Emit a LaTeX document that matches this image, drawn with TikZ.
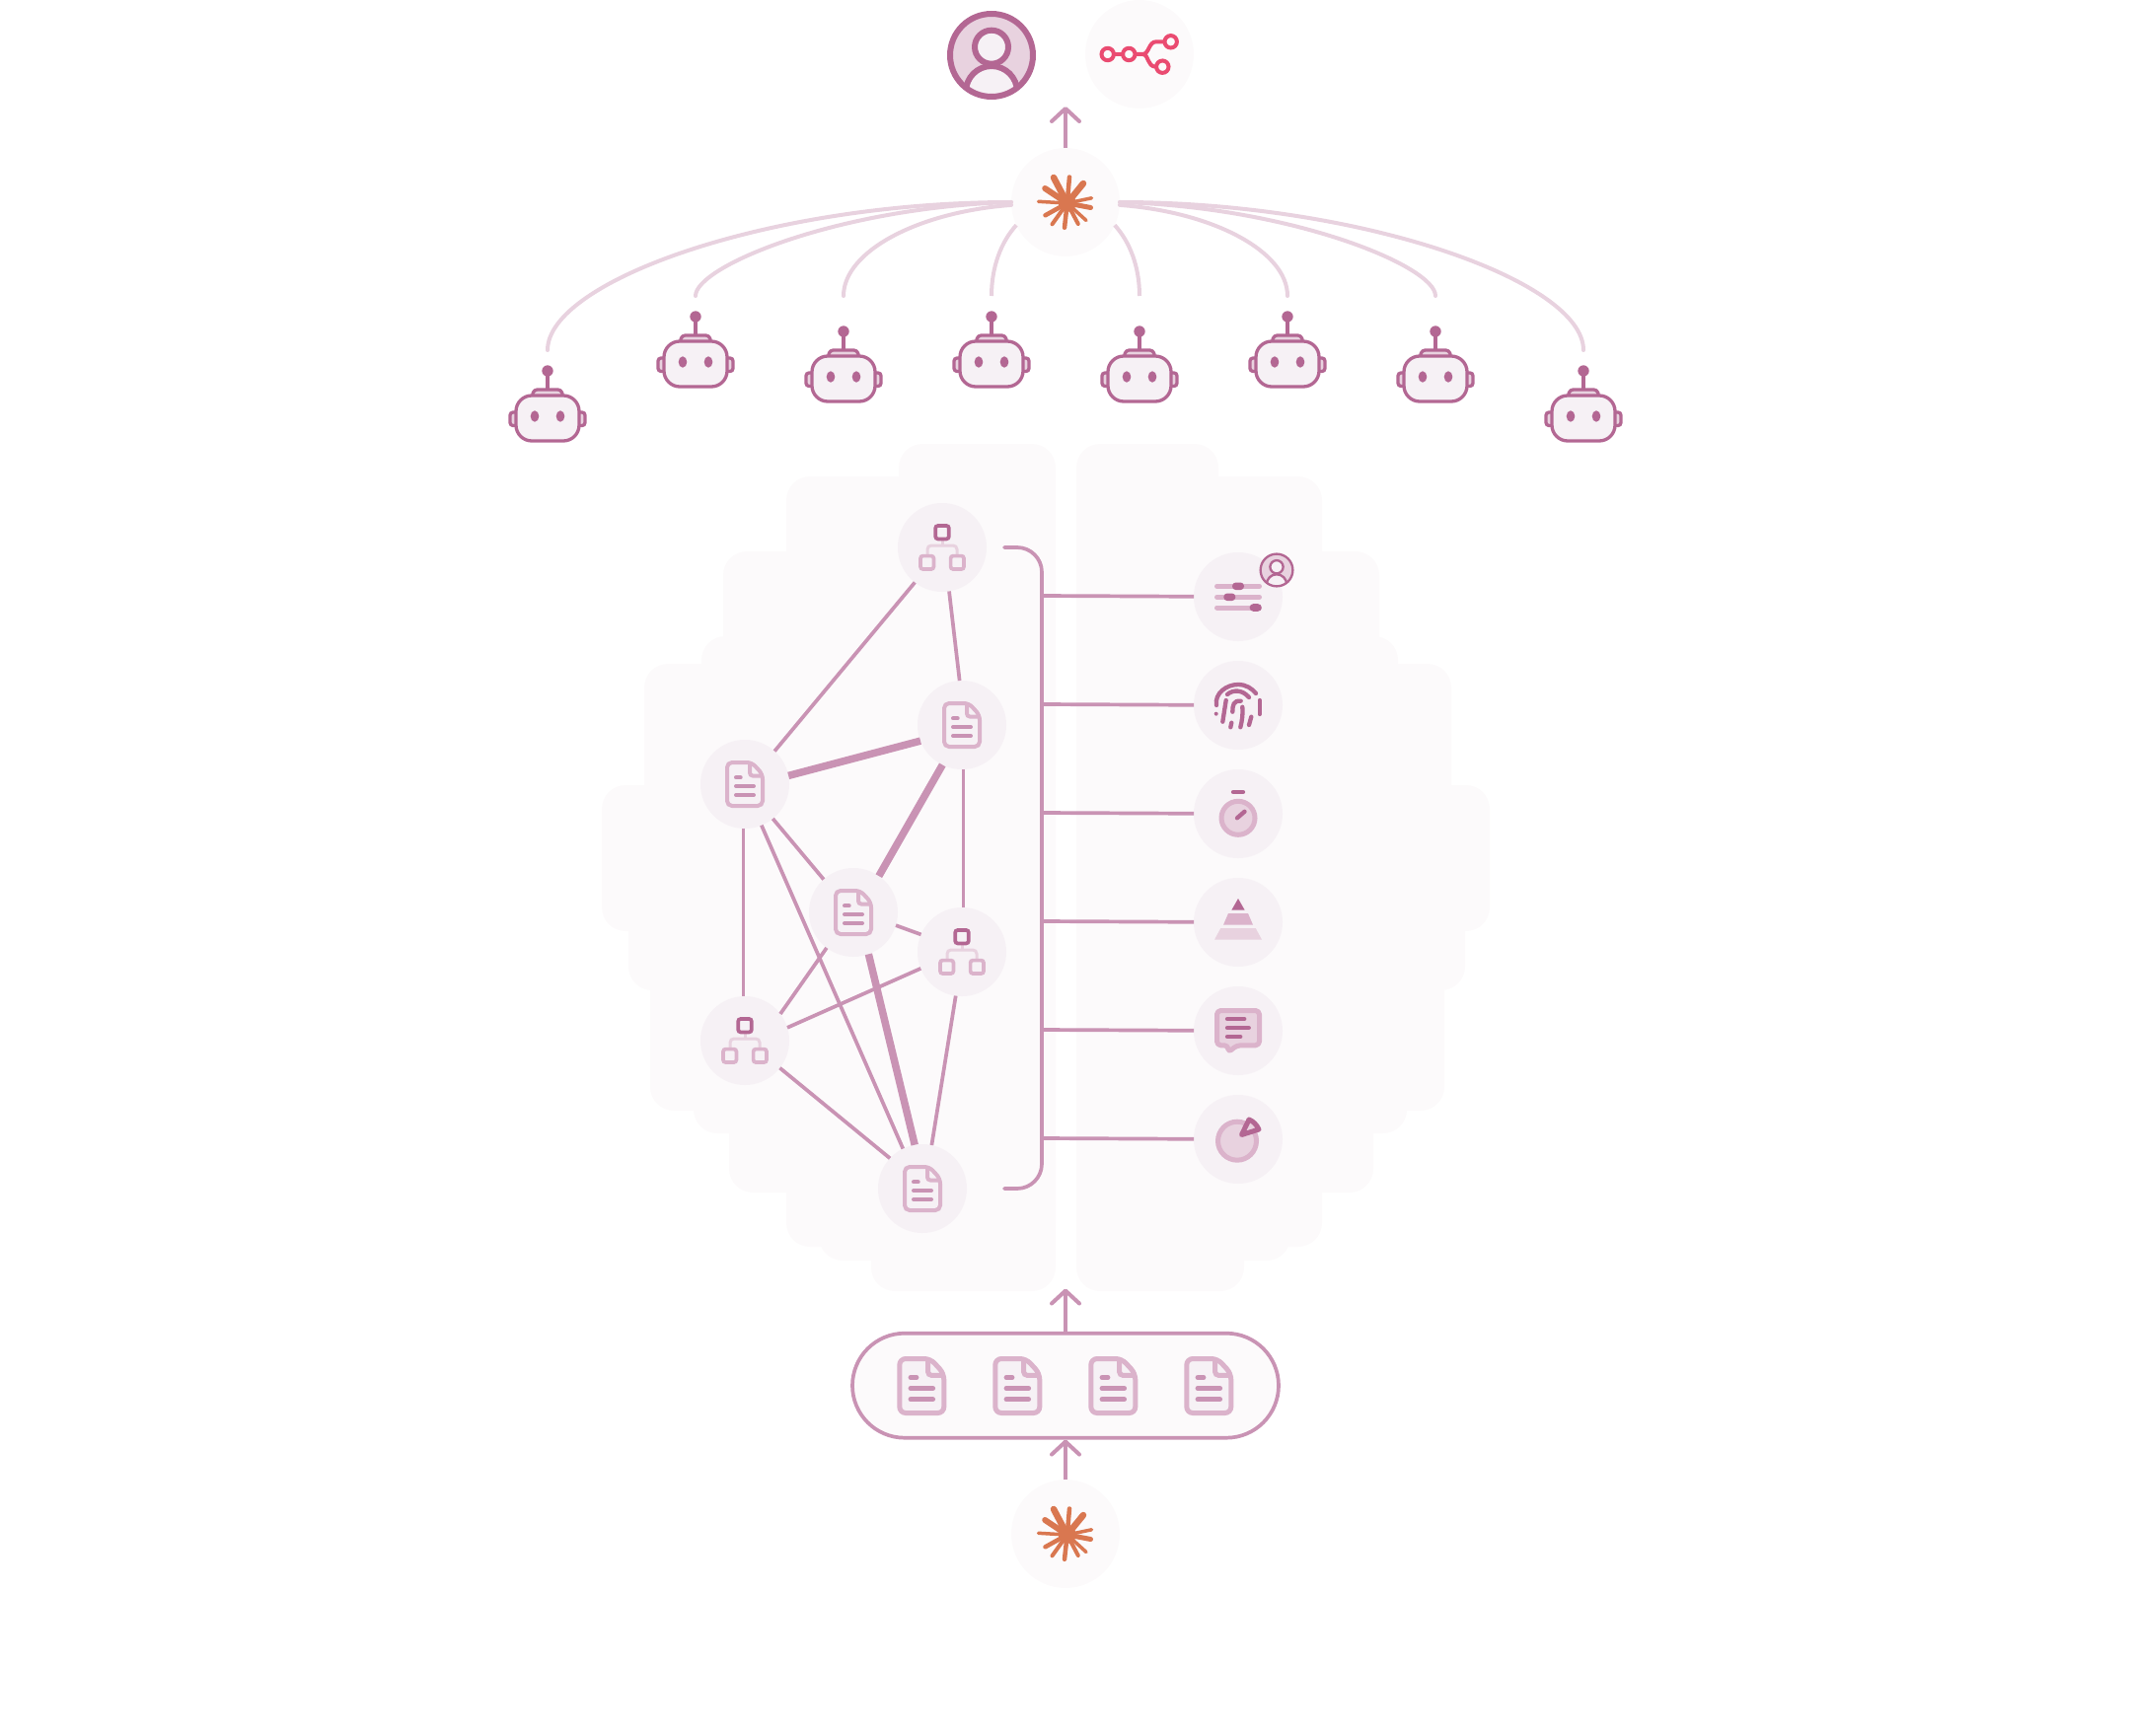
\documentclass[tikz,border=0pt]{standalone}
\usepackage{tikz}
\usetikzlibrary{arrows.meta}

\definecolor{linkpink}{HTML}{C993B4}
\definecolor{iconhigh}{HTML}{B36793}
\definecolor{iconmid}{HTML}{DBB3CB}
\definecolor{iconpale}{HTML}{E8D2DF}
\definecolor{bubblefill}{HTML}{F6F1F5}
\definecolor{lobefill}{HTML}{FCFAFB}
\definecolor{sparkorange}{HTML}{D97750}
\definecolor{flowred}{HTML}{EA4B71}

\tikzset{
    bubble/.style={circle, fill=bubblefill, minimum size=90pt, inner sep=0pt, outer sep=0pt},
    softbubble/.style={circle, fill=lobefill, minimum size=110pt, inner sep=0pt, outer sep=0pt},
    lobe/.style={fill=lobefill, rounded corners=24pt},
    link/.style={draw=linkpink, line width=3.7pt},
    heavylink/.style={draw=linkpink, line width=7.5pt},
    lead/.style={draw=iconpale, line width=4pt, line cap=round},
    flow/.style={draw=linkpink, line width=4pt, -{Straight Barb[length=13pt,width=28pt,round]}},
    inkmark/.style={draw=iconhigh, line width=4.3pt, line cap=round},
    softmark/.style={draw=linkpink, line width=4pt, line cap=round}
}

\newcommand{\docicon}[2]{
\begin{scope}[shift={(#1)},scale=#2]
\filldraw[draw=iconmid, fill=bubblefill, line width=#2*4pt, rounded corners=#2*5pt] (-18,-22) -- (7,-22) -- (18,-10) -- (18,22) -- (-18,22) -- cycle;
\draw[draw=iconmid, line width=#2*4pt, rounded corners=#2*3pt] (5,-22) -- (5,-8.5) -- (18,-8.5);
\draw[softmark, line width=#2*4pt] (-9,-6.7) -- (-4.3,-6.7);
\draw[softmark, line width=#2*4pt] (-9,2) -- (9,2);
\draw[softmark, line width=#2*4pt] (-9,11) -- (9,11);
\end{scope}
}

\newcommand{\hubicon}[1]{
\begin{scope}[shift={(#1)}]
\draw[draw=iconpale, line width=3pt, rounded corners=4pt] (-15,8) -- (-15,-2) -- (15,-2) -- (15,8);
\draw[draw=iconpale, line width=3pt] (0,-8) -- (0,-2);
\filldraw[draw=iconhigh, fill=bubblefill, line width=3.7pt, rounded corners=2.5pt] (-6.8,-22) rectangle (6.8,-8.6);
\filldraw[draw=iconmid, fill=bubblefill, line width=3.7pt, rounded corners=2.5pt] (-22,8.6) rectangle (-8.6,22);
\filldraw[draw=iconmid, fill=bubblefill, line width=3.7pt, rounded corners=2.5pt] (8.6,8.6) rectangle (22,22);
\end{scope}
}

\newcommand{\roboticon}[1]{
\begin{scope}[shift={(#1)}]
\draw[draw=iconhigh, line width=3.3pt] (0,-30) -- (0,-44);
\fill[iconhigh] (0,-48) circle (5.7);
\filldraw[draw=iconhigh, fill=iconpale, line width=3.3pt, rounded corners=3pt] (-16,-22) -- (-13.5,-29) -- (13.5,-29) -- (16,-22) -- cycle;
\filldraw[draw=iconhigh, fill=iconpale, line width=3.3pt, rounded corners=3pt] (-38,-6) rectangle (-28,7.5);
\filldraw[draw=iconhigh, fill=iconpale, line width=3.3pt, rounded corners=3pt] (28,-6) rectangle (38,7.5);
\filldraw[draw=iconhigh, fill=bubblefill, line width=3.3pt, rounded corners=16pt] (-32,-23) rectangle (32,23);
\fill[iconhigh] (-13,-2) ellipse (4.3 and 5.7);
\fill[iconhigh] (13,-2) ellipse (4.3 and 5.7);
\end{scope}
}

\newcommand{\sparkicon}[1]{
\begin{scope}[shift={(#1)}, draw=sparkorange, line cap=round]
\fill[sparkorange] (1.7,1) circle (9);
\draw[line width=6.5pt] (1.7,1) -- (-12,-25);
\draw[line width=4.5pt] (1.7,1) -- (4,-25.5);
\draw[line width=6.5pt] (1.7,1) -- (18,-19);
\draw[line width=3.5pt] (1.7,1) -- (26.5,-4.2);
\draw[line width=5pt] (1.7,1) -- (25.5,5.5);
\draw[line width=3.5pt] (1.7,1) -- (21,18.5);
\draw[line width=4pt] (1.7,1) -- (12.8,22);
\draw[line width=4.5pt] (1.7,1) -- (-1,25.8);
\draw[line width=4pt] (1.7,1) -- (-13.5,22.3);
\draw[line width=4.5pt] (1.7,1) -- (-20.5,13.3);
\draw[line width=3.5pt] (1.7,1) -- (-27.5,-0.7);
\draw[line width=6pt] (1.7,1) -- (-20.8,-14);
\end{scope}
}

\newcommand{\usericon}[2]{
\begin{scope}[shift={(#1)},scale=#2]
\fill[iconpale] (0,0) circle (42);
\begin{scope}
\clip (0,0) circle (42);
\filldraw[draw=iconhigh, fill=bubblefill, line width=#2*6pt] (0,37) circle (26);
\end{scope}
\filldraw[draw=iconhigh, fill=bubblefill, line width=#2*6pt] (0,-8.3) circle (17);
\draw[draw=iconhigh, line width=#2*6pt] (0,0) circle (42);
\end{scope}
}

\begin{document}
\begin{tikzpicture}[x=1pt,y=-1pt]
\useasboundingbox (0,0) rectangle (2160,1760);

\fill[lobe] (911,450) rectangle (1070,620);
\fill[lobe] (797,483) rectangle (1070,1264);
\fill[lobe] (733,559) rectangle (1070,800);
\fill[lobe] (711,645) rectangle (1070,800);
\fill[lobe] (653,673) rectangle (1070,1000);
\fill[lobe] (610,796) rectangle (1070,944);
\fill[lobe] (637,880) rectangle (1070,1004);
\fill[lobe] (659,900) rectangle (1070,1126);
\fill[lobe] (703,1000) rectangle (1070,1149);
\fill[lobe] (739,1000) rectangle (1070,1209);
\fill[lobe] (830,1150) rectangle (1070,1278);
\fill[lobe] (883,1150) rectangle (1070,1309);
\fill[lobe] (1091,450) rectangle (1235,620);
\fill[lobe] (1091,483) rectangle (1340,1264);
\fill[lobe] (1091,559) rectangle (1398,800);
\fill[lobe] (1091,645) rectangle (1417,800);
\fill[lobe] (1091,673) rectangle (1471,1000);
\fill[lobe] (1091,796) rectangle (1510,944);
\fill[lobe] (1091,880) rectangle (1485,1004);
\fill[lobe] (1091,900) rectangle (1464,1126);
\fill[lobe] (1091,1000) rectangle (1426,1149);
\fill[lobe] (1091,1000) rectangle (1392,1209);
\fill[lobe] (1091,1150) rectangle (1308,1278);
\fill[lobe] (1091,1150) rectangle (1261,1309);

\node[softbubble] (flow) at (1155,55) {};
\node[softbubble] (topspark) at (1080,205) {};
\node[softbubble] (lowspark) at (1080,1555) {};
\coordinate (user) at (1005,56);
\coordinate (topTip) at (1080,108);
\coordinate (midTip) at (1080,1306.5);

\coordinate (botA) at (555,424);
\coordinate (botB) at (705,369);
\coordinate (botC) at (855,384);
\coordinate (botD) at (1005,369);
\coordinate (botE) at (1155,384);
\coordinate (botF) at (1305,369);
\coordinate (botG) at (1455,384);
\coordinate (botH) at (1605,424);
\coordinate (leadA) at (555,355);
\coordinate (leadB) at (705,300);
\coordinate (leadC) at (855,300);
\coordinate (leadD) at (1005,300);
\coordinate (leadE) at (1155,300);
\coordinate (leadF) at (1305,300);
\coordinate (leadG) at (1455,300);
\coordinate (leadH) at (1605,355);

\draw[lead] (leadA) .. controls (555,285) and (780,205) .. (topspark.west);
\draw[lead] (leadB) .. controls (705,270) and (850,210) .. (topspark.west);
\draw[lead] (leadC) .. controls (855,255) and (930,215) .. (topspark.183);
\draw[lead, line cap=butt] (leadD) .. controls (1005,270) and (1015,245) .. (topspark.-155);
\draw[lead, line cap=butt] (leadE) .. controls (1155,270) and (1145,245) .. (topspark.-25);
\draw[lead] (leadF) .. controls (1305,255) and (1230,215) .. (topspark.-3);
\draw[lead] (leadG) .. controls (1455,270) and (1310,210) .. (topspark.east);
\draw[lead] (leadH) .. controls (1605,285) and (1380,205) .. (topspark.east);
\draw[flow] (topspark.north) -- (topTip);

\usericon{user}{1}
\draw[draw=flowred, line width=4pt] (1122.7,55) circle (6.2);
\draw[draw=flowred, line width=4pt] (1144.3,55) circle (6.2);
\draw[draw=flowred, line width=4pt] (1186.7,42.3) circle (6.2);
\draw[draw=flowred, line width=4pt] (1178.3,67.7) circle (6.2);
\draw[draw=flowred, line width=4pt] (1129,55) -- (1138,55);
\draw[draw=flowred, line width=4pt] (1150.5,55) -- (1158,55) .. controls (1165,55) and (1164,42.3) .. (1172,42.3) -- (1180.5,42.3);
\draw[draw=flowred, line width=4pt] (1158,55) .. controls (1165,55) and (1162,67.7) .. (1172,67.7);
\sparkicon{topspark}
\sparkicon{lowspark}

\roboticon{botA}
\roboticon{botB}
\roboticon{botC}
\roboticon{botD}
\roboticon{botE}
\roboticon{botF}
\roboticon{botG}
\roboticon{botH}

\node[bubble] (hubA) at (955,555) {};
\node[bubble] (docB) at (975,735) {};
\node[bubble] (docA) at (755,795) {};
\node[bubble] (docC) at (865,925) {};
\node[bubble] (hubB) at (975,965) {};
\node[bubble] (hubC) at (755,1055) {};
\node[bubble] (docD) at (935,1205) {};

\draw[link] (hubA.-128) -- (docA.48);
\draw[link] (hubA.-81) -- (docB.93);
\draw[heavylink] (docA.11) -- (docB.201);
\draw[heavylink] (docB.-116) -- (docC.55);
\draw[link] (docB.-88) -- (hubB.88);
\draw[link] (docA.-92) -- (hubC.92);
\draw[link] (docA.-51) -- (docC.132);
\draw[link] (docA.-68) -- (docD.116);
\draw[link] (docC.-17) -- (hubB.157);
\draw[link] (docC.-127) -- (hubC.37);
\draw[heavylink] (docC.-70) -- (docD.100);
\draw[link] (hubB.202) -- (hubC.17);
\draw[link] (hubB.-98) -- (docD.78);
\draw[link] (hubC.-38) -- (docD.137);

\hubicon{hubA}
\hubicon{hubB}
\hubicon{hubC}
\docicon{docA}{1}
\docicon{docB}{1}
\docicon{docC}{1}
\docicon{docD}{1}

\coordinate (braceA) at (1018,555);
\coordinate (braceB) at (1018,1205);
\draw[link, line cap=round, rounded corners=25pt] (braceA) -- (1056,555) -- (1056,1205) -- (braceB);

\node[bubble] (prefs) at (1255,605) {};
\node[bubble] (print) at (1255,715) {};
\node[bubble] (timer) at (1255,825) {};
\node[bubble] (tiers) at (1255,935) {};
\node[bubble] (notes) at (1255,1045) {};
\node[bubble] (slice) at (1255,1155) {};
\coordinate (tapA) at (1056,604);
\coordinate (tapB) at (1056,714);
\coordinate (tapC) at (1056,824);
\coordinate (tapD) at (1056,934);
\coordinate (tapE) at (1056,1044);
\coordinate (tapF) at (1056,1154);
\draw[link] (tapA) -- (prefs);
\draw[link] (tapB) -- (print);
\draw[link] (tapC) -- (timer);
\draw[link] (tapD) -- (tiers);
\draw[link] (tapE) -- (notes);
\draw[link] (tapF) -- (slice);

\begin{scope}[shift={(prefs)}]
\draw[draw=iconmid, line width=5pt, line cap=round] (-21.5,-10.7) -- (21.5,-10.7);
\draw[draw=iconmid, line width=5pt, line cap=round] (-21.5,0.3) -- (21.5,0.3);
\draw[draw=iconmid, line width=5pt, line cap=round] (-21.5,11) -- (21.5,11);
\fill[iconhigh, rounded corners=3.6pt] (-6,-14.5) rectangle (6,-6.9);
\fill[iconhigh, rounded corners=3.6pt] (-14.7,-3.5) rectangle (-2.7,4.1);
\fill[iconhigh, rounded corners=3.6pt] (11.7,7.2) rectangle (23.7,14.8);
\end{scope}
\coordinate (badge) at (1294,578);
\fill[lobefill] (badge) circle (18);
\usericon{badge}{0.39}

\begin{scope}[shift={(print)}]
\draw[inkmark] (-22,0) .. controls (-24,-12) and (-12,-21) .. (0,-21) .. controls (8,-21) and (14,-17) .. (18,-12);
\draw[inkmark] (-11,-11) .. controls (-5,-16) and (4,-16) .. (11,-8);
\draw[inkmark] (-12.3,-5) -- (-15.7,16.7);
\draw[inkmark] (-5.7,6.7) .. controls (-5.5,0) and (-5,-5) .. (2.7,-4.3);
\draw[inkmark] (4.3,1.7) .. controls (5,8) and (4,16) .. (2.3,22.3);
\draw[inkmark] (-6.7,17.7) -- (-7.7,22.3);
\draw[inkmark] (13.3,11.7) -- (11,20);
\draw[inkmark] (21.7,-5) -- (21.7,9);
\fill[iconhigh] (-22.3,8.7) circle (2);
\end{scope}

\begin{scope}[shift={(timer)}]
\draw[inkmark] (-5,-22) -- (5,-22);
\filldraw[draw=iconmid, fill=iconpale, line width=5pt] (0,4.3) circle (17);
\draw[inkmark] (-1,4.3) -- (6.5,-2.2);
\end{scope}

\begin{scope}[shift={(tiers)}]
\fill[iconhigh] (0,-24) -- (6.7,-12.3) -- (-6.7,-12.3) -- cycle;
\fill[iconmid] (-10,-9) -- (10,-9) -- (15,2.7) -- (-15,2.7) -- cycle;
\fill[iconpale] (-17.7,6) -- (17.7,6) -- (24,17.7) -- (-24,17.7) -- cycle;
\end{scope}

\begin{scope}[shift={(notes)}]
\filldraw[draw=iconmid, fill=iconpale, line width=5pt, line join=round, rounded corners=4pt] (-21.5,-20.5) -- (21.5,-20.5) -- (21.5,14.8) -- (-1.5,14.8) -- (-10,22) -- (-10,14.8) -- (-21.5,14.8) -- cycle;
\draw[inkmark] (-11,-12) -- (6.3,-12);
\draw[inkmark] (-11,-3) -- (10.7,-3);
\draw[inkmark] (-11,6) -- (2.3,6);
\end{scope}

\begin{scope}[shift={(slice)}]
\filldraw[draw=iconmid, fill=iconpale, line width=5pt] (-1,1.7) circle (19.5);
\filldraw[draw=iconhigh, fill=iconpale, line width=5pt, line join=round] (3.5,-4.5) -- (11,-20) .. controls (15.5,-18) and (18.5,-15) .. (21,-10) -- cycle;
\end{scope}

\node[draw=linkpink, fill=lobefill, line width=3.7pt, rounded corners=53pt, minimum width=432pt, minimum height=106pt, inner sep=0pt] (pill) at (1080,1404.7) {};
\coordinate (docE) at (934.3,1405);
\coordinate (docF) at (1031.3,1405);
\coordinate (docG) at (1128.3,1405);
\coordinate (docH) at (1225.3,1405);
\docicon{docE}{1.25}
\docicon{docF}{1.25}
\docicon{docG}{1.25}
\docicon{docH}{1.25}
\draw[flow] (pill.north) -- (midTip);
\draw[flow] (lowspark.north) -- (pill.south);
\end{tikzpicture}
\end{document}
